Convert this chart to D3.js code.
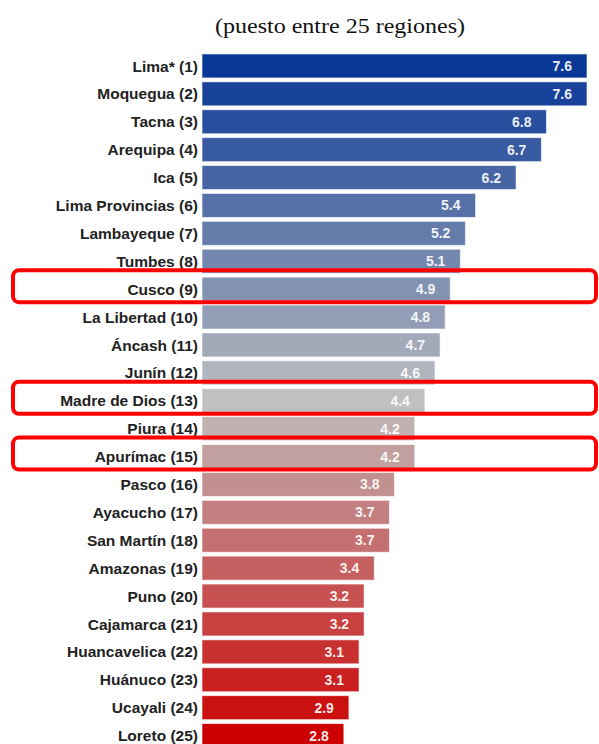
<!DOCTYPE html>
<html><head><meta charset="utf-8">
<script src="https://cdn.jsdelivr.net/npm/d3@7"></script>
<style>body{margin:0;background:#fff}svg{display:block}</style>
</head><body>
<svg id="c" width="599" height="744"></svg>
<script>
const title = "(puesto entre 25 regiones)";
const regions = ["Lima*","Moquegua","Tacna","Arequipa","Ica","Lima Provincias","Lambayeque","Tumbes","Cusco","La Libertad","Áncash","Junín","Madre de Dios","Piura","Apurímac","Pasco","Ayacucho","San Martín","Amazonas","Puno","Cajamarca","Huancavelica","Huánuco","Ucayali","Loreto"];
const ranks = [1,2,3,4,5,6,7,8,9,10,11,12,13,14,15,16,17,18,19,20,21,22,23,24,25];
const values = [7.6,7.6,6.8,6.7,6.2,5.4,5.2,5.1,4.9,4.8,4.7,4.6,4.4,4.2,4.2,3.8,3.7,3.7,3.4,3.2,3.2,3.1,3.1,2.9,2.8];
const highlighted = ["Cusco","Madre de Dios","Apurímac"];

const svg = d3.select("#c");
const x = d3.scaleLinear().domain([0, 7.6]).range([202, 587]);
const y = d3.scaleBand().domain(regions).range([52, 52 + 25 * 27.9]).paddingInner(0.14).paddingOuter(0.07);
const color = d3.scaleLinear().domain([1, 13, 25]).range(["#0a3896", "#c0c0c0", "#cc0000"]).interpolate(d3.interpolateRgb);

svg.append("text").attr("x", 340).attr("y", 33).attr("text-anchor", "middle")
  .attr("font-family", "Liberation Serif, Times New Roman, serif").attr("font-size", 21)
  .attr("fill", "#111").attr("textLength", 250).attr("lengthAdjust", "spacingAndGlyphs").text(title);

const data = regions.map((r, i) => ({ name: r, rank: ranks[i], value: values[i] }));

const g = svg.append("g");
g.selectAll("rect.bar").data(data).join("rect").attr("class", "bar")
  .attr("x", x(0)).attr("y", d => y(d.name))
  .attr("width", d => x(d.value) - x(0)).attr("height", y.bandwidth())
  .attr("fill", d => color(d.rank))
  .attr("stroke", "rgba(255,255,255,0.6)").attr("stroke-width", 1);

g.selectAll("text.val").data(data).join("text").attr("class", "val")
  .attr("x", d => x(d.value) - 15).attr("y", d => y(d.name) + y.bandwidth() / 2)
  .attr("dy", "0.36em").attr("text-anchor", "end")
  .attr("font-family", "Liberation Sans, Arial, sans-serif").attr("font-weight", "bold").attr("font-size", 14)
  .attr("fill", "#fff").attr("fill-opacity", 0.92).text(d => d3.format(".1f")(d.value));

g.selectAll("text.lab").data(data).join("text").attr("class", "lab")
  .attr("x", 198).attr("y", d => y(d.name) + y.bandwidth() / 2)
  .attr("dy", "0.36em").attr("text-anchor", "end")
  .attr("font-family", "Liberation Sans, Arial, sans-serif").attr("font-weight", "bold").attr("font-size", 15.5)
  .attr("fill", "#222").text(d => `${d.name} (${d.rank})`);

svg.selectAll("rect.hl").data(data.filter(d => highlighted.includes(d.name))).join("rect").attr("class", "hl")
  .attr("x", 13).attr("y", d => y(d.name) + y.bandwidth() / 2 - 19)
  .attr("width", 583).attr("height", 32).attr("rx", 6)
  .attr("fill", "none").attr("stroke", "#ff0000").attr("stroke-width", 4);
</script>
</body></html>
